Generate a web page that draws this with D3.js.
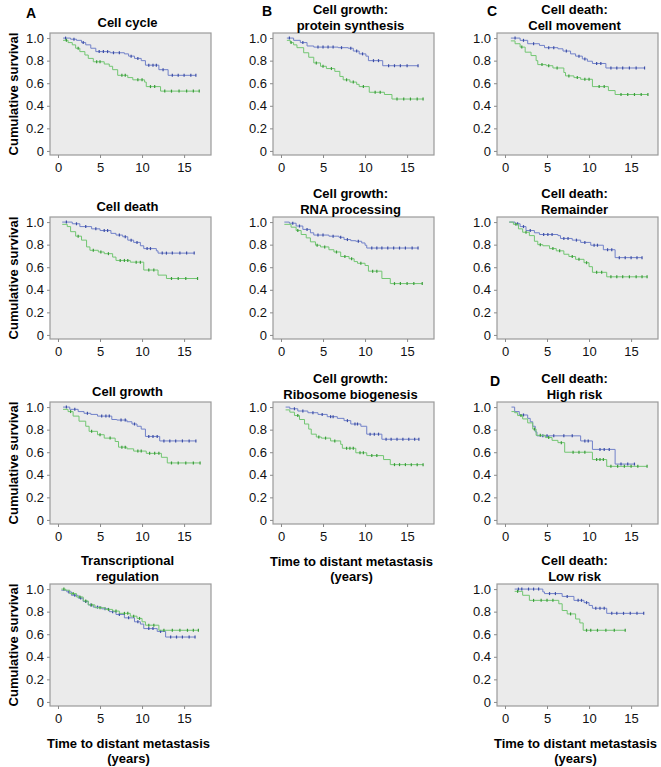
<!DOCTYPE html>
<html>
<head>
<meta charset="utf-8">
<script src="https://cdn.jsdelivr.net/npm/d3@7"></script>
<style>
  body { margin: 0; background: #fff; }
  text { font-family: Arial, 'Liberation Sans', sans-serif; }
</style>
</head>
<body>
<div id="chart"></div>
<script>
// Kaplan-Meier steps: [time in years, cumulative survival]; first = start, last = end of follow-up
const cellCycleBlue = [[0.6, 1], [1.5, 0.99], [2.2, 0.98], [2.8, 0.96], [3.3, 0.94], [3.9, 0.91], [4.5, 0.88], [6.2, 0.87], [7.9, 0.86], [8.4, 0.84], [9.1, 0.82], [9.9, 0.8], [10.4, 0.76], [12.0, 0.72], [13.1, 0.67], [16.4, 0.67]]
const cellCycleGreen = [[0.6, 0.98], [1.2, 0.96], [1.7, 0.94], [2.1, 0.91], [2.6, 0.88], [3.2, 0.85], [3.6, 0.82], [4.2, 0.79], [5.5, 0.77], [6.1, 0.75], [6.5, 0.72], [7.1, 0.67], [8.3, 0.65], [8.9, 0.63], [10.3, 0.61], [10.5, 0.57], [12.2, 0.53], [16.8, 0.53]]
const cellCycleBlueCensor = [0.9, 1.9, 3.0, 4.9, 5.4, 5.9, 6.6, 7.3, 8.7, 9.5, 10.8, 11.3, 11.7, 12.5, 13.6, 14.3, 15.0, 15.8, 16.4]
const cellCycleGreenCensor = [1.0, 2.4, 4.6, 5.0, 7.6, 8.0, 9.5, 10.0, 11.0, 11.5, 12.7, 13.5, 14.4, 15.3, 16.1, 16.8]

const proteinBlue = [[0.7, 1], [1.5, 0.98], [2.3, 0.96], [3.1, 0.93], [3.9, 0.92], [6.8, 0.915], [8.0, 0.91], [8.6, 0.885], [9.3, 0.86], [10.1, 0.84], [10.4, 0.8], [12.1, 0.755], [16.3, 0.755]]
const proteinGreen = [[0.7, 0.98], [1.1, 0.96], [1.5, 0.94], [1.9, 0.915], [2.7, 0.87], [3.3, 0.83], [3.9, 0.78], [4.7, 0.75], [5.4, 0.73], [6.4, 0.705], [7.0, 0.66], [7.4, 0.63], [8.2, 0.61], [9.0, 0.59], [9.3, 0.57], [10.5, 0.52], [12.3, 0.5], [13.2, 0.46], [16.9, 0.46]]
const proteinBlueCensor = [1.0, 2.6, 4.4, 5.0, 5.6, 6.2, 7.2, 8.3, 9.0, 9.7, 11.0, 11.6, 12.8, 13.5, 14.2, 15.0, 16.3]
const proteinGreenCensor = [1.2, 4.2, 5.0, 6.0, 7.8, 8.6, 9.8, 11.2, 11.8, 13.8, 14.6, 15.4, 16.2, 16.9]

const movementBlue = [[0.7, 1], [1.8, 0.98], [2.7, 0.95], [4.1, 0.935], [4.7, 0.915], [6.3, 0.905], [6.9, 0.885], [7.8, 0.86], [8.4, 0.84], [9.2, 0.815], [9.8, 0.795], [10.4, 0.775], [12.0, 0.735], [16.6, 0.735]]
const movementGreen = [[0.7, 0.975], [1.2, 0.95], [1.8, 0.92], [2.4, 0.875], [3.1, 0.845], [3.7, 0.8], [3.9, 0.765], [4.9, 0.755], [5.7, 0.735], [7.0, 0.695], [7.2, 0.665], [8.2, 0.65], [9.0, 0.635], [10.4, 0.57], [12.3, 0.535], [13.1, 0.5], [17.0, 0.5]]
const movementBlueCensor = [1.2, 2.2, 3.4, 5.2, 5.8, 7.3, 8.8, 9.5, 10.9, 11.4, 12.6, 13.3, 14.0, 14.8, 15.6, 16.6]
const movementGreenCensor = [2.0, 4.4, 5.2, 6.2, 7.6, 8.6, 9.5, 10.0, 11.2, 11.8, 13.8, 14.6, 15.4, 16.2, 17.0]

const deathBlue = [[0.5, 1], [1.7, 0.985], [2.6, 0.96], [4.0, 0.94], [5.0, 0.925], [6.3, 0.9], [6.9, 0.885], [7.7, 0.87], [8.3, 0.84], [9.0, 0.82], [9.8, 0.79], [10.2, 0.765], [11.7, 0.745], [11.9, 0.725], [16.2, 0.725]]
const deathGreen = [[0.5, 0.98], [1.1, 0.96], [1.5, 0.915], [2.1, 0.875], [2.8, 0.84], [3.4, 0.78], [3.8, 0.75], [4.8, 0.735], [5.5, 0.72], [6.5, 0.69], [6.9, 0.66], [8.6, 0.645], [10.2, 0.575], [11.9, 0.53], [12.9, 0.5], [16.6, 0.5]]
const deathBlueCensor = [1.0, 2.2, 3.3, 4.5, 5.5, 5.9, 7.3, 8.0, 8.7, 9.4, 10.6, 11.0, 12.4, 12.9, 13.6, 14.5, 15.3, 16.2]
const deathGreenCensor = [2.4, 4.2, 5.1, 6.0, 7.4, 7.9, 8.3, 9.3, 9.8, 10.8, 11.4, 13.5, 14.3, 15.2, 16.6]

const rnaBlue = [[0.4, 1], [1.0, 0.99], [1.8, 0.965], [2.6, 0.935], [3.5, 0.905], [3.9, 0.885], [5.7, 0.875], [6.9, 0.865], [7.5, 0.845], [8.3, 0.835], [8.9, 0.83], [9.6, 0.815], [10.0, 0.795], [10.2, 0.77], [16.3, 0.77]]
const rnaGreen = [[0.4, 0.98], [1.2, 0.955], [1.8, 0.925], [2.4, 0.89], [3.0, 0.86], [3.5, 0.825], [4.1, 0.795], [4.7, 0.78], [5.7, 0.755], [6.3, 0.735], [7.1, 0.695], [8.1, 0.675], [8.7, 0.65], [9.1, 0.635], [10.0, 0.615], [10.4, 0.565], [12.0, 0.5], [13.0, 0.455], [16.8, 0.455]]
const rnaBlueCensor = [1.4, 2.2, 3.1, 4.4, 5.0, 6.2, 7.1, 7.9, 9.2, 10.8, 11.4, 12.0, 12.7, 13.4, 14.1, 14.8, 15.6, 16.3]
const rnaGreenCensor = [2.0, 4.3, 5.2, 6.6, 7.6, 8.4, 9.5, 10.9, 11.4, 13.5, 14.2, 15.0, 15.8, 16.8]

const remainderBlue = [[0.5, 1], [1.2, 0.985], [1.8, 0.96], [2.5, 0.925], [3.5, 0.905], [4.1, 0.89], [6.3, 0.88], [6.6, 0.855], [8.0, 0.84], [9.0, 0.82], [10.2, 0.795], [11.7, 0.755], [13.1, 0.685], [16.3, 0.685]]
const remainderGreen = [[0.5, 1], [1.0, 0.98], [1.6, 0.94], [2.1, 0.91], [2.9, 0.88], [3.5, 0.83], [3.9, 0.8], [4.5, 0.79], [5.3, 0.765], [6.1, 0.745], [7.0, 0.715], [7.6, 0.695], [8.4, 0.67], [9.4, 0.64], [10.0, 0.605], [10.4, 0.555], [12.1, 0.515], [16.9, 0.515]]
const remainderBlueCensor = [1.5, 2.2, 3.0, 4.6, 5.1, 5.6, 7.0, 7.5, 8.5, 9.5, 10.6, 11.0, 12.2, 12.7, 13.6, 14.3, 15.0, 15.7, 16.3]
const remainderGreenCensor = [1.3, 2.5, 4.2, 5.7, 6.5, 8.0, 8.8, 9.7, 10.9, 11.5, 12.6, 13.3, 14.0, 14.8, 15.6, 16.3, 16.9]

const growthBlue = [[0.6, 1], [1.4, 0.98], [2.4, 0.96], [3.1, 0.945], [3.9, 0.935], [4.7, 0.92], [6.4, 0.89], [7.0, 0.885], [8.2, 0.87], [8.8, 0.85], [9.4, 0.83], [9.9, 0.805], [10.4, 0.74], [12.1, 0.7], [16.4, 0.7]]
const growthGreen = [[0.6, 0.98], [1.2, 0.96], [1.8, 0.92], [2.5, 0.875], [3.3, 0.83], [3.7, 0.785], [4.7, 0.755], [5.5, 0.725], [6.8, 0.695], [7.2, 0.645], [8.2, 0.63], [9.0, 0.61], [10.5, 0.59], [12.3, 0.555], [13.0, 0.505], [16.9, 0.505]]
const growthBlueCensor = [1.0, 2.0, 3.5, 5.2, 5.7, 6.1, 7.5, 8.0, 9.1, 10.8, 11.3, 11.8, 12.6, 13.3, 14.0, 14.8, 15.6, 16.4]
const growthGreenCensor = [1.5, 4.0, 5.0, 6.2, 7.6, 8.0, 9.5, 9.9, 10.9, 11.5, 12.0, 13.5, 14.3, 15.2, 16.1, 16.9]

const riboBlue = [[0.55, 1], [1.05, 0.985], [2.0, 0.965], [3.2, 0.95], [4.4, 0.935], [5.5, 0.915], [6.7, 0.9], [7.5, 0.88], [8.3, 0.85], [9.5, 0.83], [10.2, 0.76], [12.0, 0.715], [16.4, 0.715]]
const riboGreen = [[0.55, 0.975], [1.05, 0.955], [1.6, 0.925], [2.2, 0.89], [2.8, 0.85], [3.3, 0.805], [3.6, 0.76], [4.2, 0.735], [4.8, 0.725], [5.9, 0.7], [7.1, 0.67], [7.3, 0.635], [8.9, 0.595], [10.2, 0.57], [12.2, 0.535], [13.0, 0.49], [16.9, 0.49]]
const riboBlueCensor = [1.6, 2.6, 3.8, 4.9, 5.9, 6.2, 7.9, 8.8, 9.1, 10.6, 11.1, 11.6, 12.5, 13.1, 13.8, 14.5, 15.2, 15.9, 16.4]
const riboGreenCensor = [2.0, 4.5, 5.3, 6.4, 7.8, 8.2, 8.6, 9.4, 9.8, 10.8, 11.4, 13.5, 14.1, 14.8, 15.5, 16.2, 16.9]

const highBlue = [[0.77, 1], [1.15, 0.96], [1.7, 0.93], [2.7, 0.9], [3.0, 0.87], [3.3, 0.83], [3.6, 0.78], [3.8, 0.745], [9.0, 0.7], [10.4, 0.625], [13.1, 0.495], [15.4, 0.495]]
const highGreen = [[0.77, 0.96], [1.15, 0.95], [1.5, 0.925], [2.1, 0.895], [2.7, 0.86], [3.3, 0.805], [3.7, 0.75], [4.8, 0.73], [5.6, 0.705], [6.3, 0.685], [7.1, 0.6], [10.4, 0.535], [12.1, 0.475], [16.9, 0.475]]
const highBlueCensor = [2.2, 4.5, 5.0, 5.8, 7.0, 8.0, 9.5, 9.9, 11.3, 11.8, 12.4, 13.8, 14.6, 15.4]
const highGreenCensor = [1.9, 3.5, 4.2, 5.2, 6.7, 8.1, 8.8, 9.5, 10.9, 11.3, 11.7, 12.6, 13.4, 14.2, 15.0, 15.8, 16.9]

const transBlue = [[0.4, 0.99], [1.05, 0.975], [1.6, 0.945], [2.4, 0.92], [3.0, 0.89], [3.6, 0.86], [4.2, 0.84], [5.2, 0.825], [6.1, 0.8], [6.9, 0.775], [7.9, 0.745], [9.1, 0.71], [9.8, 0.69], [10.2, 0.65], [11.8, 0.625], [12.8, 0.575], [16.3, 0.575]]
const transGreen = [[0.4, 1], [0.9, 0.99], [1.4, 0.96], [2.2, 0.93], [3.0, 0.895], [3.6, 0.86], [4.4, 0.835], [5.6, 0.82], [6.5, 0.805], [7.3, 0.785], [8.6, 0.76], [9.4, 0.74], [10.0, 0.71], [10.4, 0.68], [12.0, 0.635], [16.7, 0.635]]
const transBlueCensor = [1.3, 2.0, 2.7, 3.3, 3.9, 4.7, 5.6, 6.5, 7.3, 8.4, 9.5, 10.8, 11.3, 12.2, 13.4, 14.1, 14.8, 15.6, 16.3]
const transGreenCensor = [0.7, 1.8, 2.6, 3.3, 4.0, 5.0, 6.0, 6.9, 7.9, 8.3, 9.0, 9.7, 10.8, 11.4, 12.6, 13.6, 14.5, 15.4, 16.1, 16.7]

const lowBlue = [[1.15, 1], [4.5, 0.975], [4.7, 0.96], [6.8, 0.935], [8.2, 0.9], [9.4, 0.88], [10.0, 0.855], [10.4, 0.83], [12.1, 0.785], [16.5, 0.785]]
const lowGreen = [[1.15, 0.98], [2.1, 0.945], [2.9, 0.9], [6.4, 0.87], [6.8, 0.81], [7.4, 0.78], [8.4, 0.735], [8.9, 0.7], [9.3, 0.635], [14.3, 0.635]]
const lowBlueCensor = [1.6, 2.0, 2.8, 3.4, 4.0, 5.3, 6.0, 7.4, 8.7, 9.1, 9.7, 10.8, 11.3, 11.8, 12.7, 13.3, 14.1, 14.9, 15.7, 16.5]
const lowGreenCensor = [1.5, 3.4, 4.3, 5.0, 5.7, 7.8, 9.7, 10.2, 11.0, 12.0, 13.0, 14.3]

const yTicks = [0, 0.2, 0.4, 0.6, 0.8, 1.0]
const xTicks = [0, 5, 10, 15]

const blueLine = '#7181c9'
const blueMark = '#3c4ea6'
const greenLine = '#72c672'
const greenMark = '#3a9c3a'

const width = 661
const height = 767
const plotW = 161
const plotH = 122

const svg = d3
  .select('#chart')
  .append('svg')
  .attr('width', width)
  .attr('height', height)

const xScale = d3.scaleLinear().domain([-0.95, 18.2]).range([0, plotW])
const yScale = d3.scaleLinear().domain([-0.036, 1.045]).range([plotH, 0])

const colX = [50, 273, 497]
const rowY = [33, 217, 402, 584]

const panels = [
  { title: ['Cell cycle'], col: 0, row: 0, blue: cellCycleBlue, green: cellCycleGreen, blueC: cellCycleBlueCensor, greenC: cellCycleGreenCensor },
  { title: ['Cell growth:', 'protein synthesis'], col: 1, row: 0, blue: proteinBlue, green: proteinGreen, blueC: proteinBlueCensor, greenC: proteinGreenCensor },
  { title: ['Cell death:', 'Cell movement'], col: 2, row: 0, blue: movementBlue, green: movementGreen, blueC: movementBlueCensor, greenC: movementGreenCensor },
  { title: ['Cell death'], col: 0, row: 1, blue: deathBlue, green: deathGreen, blueC: deathBlueCensor, greenC: deathGreenCensor },
  { title: ['Cell growth:', 'RNA processing'], col: 1, row: 1, blue: rnaBlue, green: rnaGreen, blueC: rnaBlueCensor, greenC: rnaGreenCensor },
  { title: ['Cell death:', 'Remainder'], col: 2, row: 1, blue: remainderBlue, green: remainderGreen, blueC: remainderBlueCensor, greenC: remainderGreenCensor },
  { title: ['Cell growth'], col: 0, row: 2, blue: growthBlue, green: growthGreen, blueC: growthBlueCensor, greenC: growthGreenCensor },
  { title: ['Cell growth:', 'Ribosome biogenesis'], col: 1, row: 2, blue: riboBlue, green: riboGreen, blueC: riboBlueCensor, greenC: riboGreenCensor },
  { title: ['Cell death:', 'High risk'], col: 2, row: 2, blue: highBlue, green: highGreen, blueC: highBlueCensor, greenC: highGreenCensor },
  { title: ['Transcriptional', 'regulation'], col: 0, row: 3, blue: transBlue, green: transGreen, blueC: transBlueCensor, greenC: transGreenCensor },
  { title: ['Cell death:', 'Low risk'], col: 2, row: 3, blue: lowBlue, green: lowGreen, blueC: lowBlueCensor, greenC: lowGreenCensor }
]

const line = d3
  .line()
  .x(d => xScale(d[0]))
  .y(d => yScale(d[1]))
  .curve(d3.curveStepAfter)

function survivalAt(steps, t) {
  const i = d3.bisector(d => d[0]).right(steps, t) - 1
  return steps[Math.max(0, i)][1]
}

panels.forEach(p => {
  const g = svg
    .append('g')
    .attr('transform', 'translate(' + colX[p.col] + ',' + rowY[p.row] + ')')

  g.append('rect')
    .attr('width', plotW)
    .attr('height', plotH)
    .attr('fill', '#ebebeb')
    .attr('stroke', '#9a9a9a')
    .attr('stroke-width', 1.2)

  const yAxis = g
    .append('g')
    .call(
      d3
        .axisLeft(yScale)
        .tickValues(yTicks)
        .tickSize(3)
        .tickPadding(3)
        .tickFormat(d => (d === 0 ? '0' : d3.format('.1f')(d)))
    )
  const xAxis = g
    .append('g')
    .attr('transform', 'translate(0,' + plotH + ')')
    .call(d3.axisBottom(xScale).tickValues(xTicks).tickSize(3).tickPadding(5))

  ;[yAxis, xAxis].forEach(ax => {
    ax.select('.domain').remove()
    ax.selectAll('line').attr('stroke', '#8a8a8a')
    ax.selectAll('text')
      .attr('font-size', 13)
      .attr('fill', '#111')
      .attr('font-family', "Arial, 'Liberation Sans', sans-serif")
  })

  // title
  const cx = plotW / 2 - 3
  const lines = p.title
  const baselines = lines.length === 2 ? [-19, -3.5] : [-6]
  lines.forEach((t, i) => {
    g.append('text')
      .attr('x', cx)
      .attr('y', baselines[i])
      .attr('text-anchor', 'middle')
      .attr('font-size', 13)
      .attr('font-weight', 'bold')
      .text(t)
  })

  // curves
  const series = [
    { steps: p.blue, censor: p.blueC, stroke: blueLine, mark: blueMark },
    { steps: p.green, censor: p.greenC, stroke: greenLine, mark: greenMark }
  ]
  series.forEach(s => {
    g.append('path')
      .datum(s.steps)
      .attr('d', line)
      .attr('fill', 'none')
      .attr('stroke', s.stroke)
      .attr('stroke-width', 1)

    g.selectAll(null)
      .data(s.censor)
      .enter()
      .append('line')
      .attr('x1', d => xScale(d))
      .attr('x2', d => xScale(d))
      .attr('y1', d => yScale(survivalAt(s.steps, d)) - 1.5)
      .attr('y2', d => yScale(survivalAt(s.steps, d)) + 1.5)
      .attr('stroke', s.mark)
      .attr('stroke-width', 1.2)
  })
})

// y-axis titles for column A
rowY.forEach(y => {
  svg.append('text')
    .attr('transform', 'translate(' + 18 + ',' + (y + plotH / 2) + ') rotate(-90)')
    .attr('text-anchor', 'middle')
    .attr('font-size', 13)
    .attr('font-weight', 'bold')
    .text('Cumulative survival')
})

// x-axis titles
const xTitles = [
  { col: 0, row: 3 },
  { col: 1, row: 2 },
  { col: 2, row: 3 }
]
xTitles.forEach(t => {
  const cx = colX[t.col] + plotW / 2 - 2
  const bottom = rowY[t.row] + plotH
  svg.append('text')
    .attr('x', cx)
    .attr('y', bottom + 42)
    .attr('text-anchor', 'middle')
    .attr('font-size', 13)
    .attr('font-weight', 'bold')
    .text('Time to distant metastasis')
  svg.append('text')
    .attr('x', cx)
    .attr('y', bottom + 57)
    .attr('text-anchor', 'middle')
    .attr('font-size', 13)
    .attr('font-weight', 'bold')
    .text('(years)')
})

// panel letters
const letters = [
  { t: 'A', x: 31, y: 18 },
  { t: 'B', x: 267, y: 16 },
  { t: 'C', x: 492, y: 16 },
  { t: 'D', x: 495, y: 386 }
]
letters.forEach(l => {
  svg.append('text')
    .attr('x', l.x)
    .attr('y', l.y)
    .attr('text-anchor', 'middle')
    .attr('font-size', 14)
    .attr('font-weight', 'bold')
    .text(l.t)
})
</script>
</body>
</html>
